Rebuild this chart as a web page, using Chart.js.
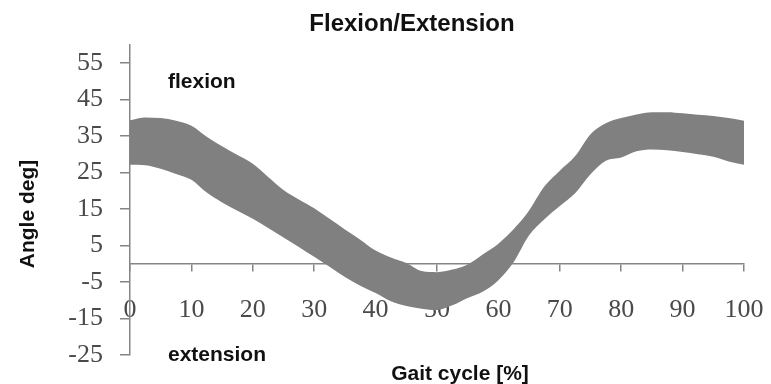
<!DOCTYPE html>
<html>
<head>
<meta charset="utf-8">
<script src="https://cdn.jsdelivr.net/npm/chart.js@4.4.0/dist/chart.umd.min.js"></script>
<style>
  html, body { margin: 0; padding: 0; background: #ffffff; }
  #wrap { width: 771px; height: 384px; }
</style>
</head>
<body>
<div id="wrap"><canvas id="chart" width="771" height="384"></canvas></div>
<script>
// Knee flexion/extension corridor over the gait cycle
const gaitPercent = [0, 2.5, 5, 7.5, 10, 12.5, 15, 17.5, 20, 22.5, 25, 27.5, 30, 32.5, 35, 37.5, 40, 42.5, 45, 47.5, 50,
                     52.5, 55, 57.5, 60, 62.5, 65, 67.5, 70, 72.5, 75, 77.5, 80, 82.5, 85, 87.5, 90, 92.5, 95, 97.5, 100];
const angleUpper  = [39.3, 40.1, 39.9, 39.2, 37.8, 34.8, 32.2, 29.8, 27.4, 23.8, 20.2, 17.6, 15.2, 12.3, 9.4, 6.6, 3.6, 1.7, 0.2, -2.0, -2.3,
                     -1.6, -0.2, 2.6, 5.5, 9.5, 14.6, 21.2, 25.5, 29.5, 35.5, 38.5, 39.9, 40.9, 41.5, 41.5, 41.2, 40.8, 40.5, 39.9, 39.2];
const angleLower  = [27.1, 27.0, 26.0, 24.6, 23.0, 19.5, 16.8, 14.5, 12.3, 9.8, 7.2, 4.6, 1.9, -0.8, -3.6, -6.0, -8.0, -10.3, -11.6, -12.3, -12.7,
                     -11.4, -9.4, -7.6, -4.5, 0.5, 7.8, 12.2, 15.8, 19.3, 24.5, 28.2, 29.1, 30.8, 31.3, 31.1, 30.6, 30.0, 29.3, 28.0, 27.1];
const angleTicks = [-25, -15, -5, 5, 15, 25, 35, 45, 55];
const gaitTicks  = [0, 10, 20, 30, 40, 50, 60, 70, 80, 90, 100];

const chartTitle = 'Flexion/Extension';
const xTitle = 'Gait cycle [%]';
const yTitle = 'Angle deg]';
const upLabel = 'flexion';
const downLabel = 'extension';

const bandColor = '#808080';
const axisColor = '#858585';
const tickFont = { family: '"Liberation Serif", "Times New Roman", serif', size: 26 };
const labelFont = 'bold 21px "Liberation Sans", Arial, sans-serif';

const toPoints = (ys) => gaitPercent.map((g, i) => ({ x: g, y: ys[i] }));

// Titles and the flexion / extension captions
const captions = {
  id: 'captions',
  afterDraw(chart) {
    const ctx = chart.ctx;
    ctx.save();
    ctx.fillStyle = '#111111';
    ctx.textBaseline = 'middle';

    ctx.font = 'bold 24px "Liberation Sans", Arial, sans-serif';
    ctx.textAlign = 'center';
    ctx.fillText(chartTitle, 412, 24);

    ctx.font = labelFont;
    ctx.fillText(xTitle, 460, 374);

    ctx.textAlign = 'left';
    ctx.fillText(upLabel, 168, 82);
    ctx.fillText(downLabel, 168, 355);

    ctx.translate(28, 214);
    ctx.rotate(-Math.PI / 2);
    ctx.textAlign = 'center';
    ctx.fillText(yTitle, 0, 0);
    ctx.restore();
  }
};

new Chart(document.getElementById('chart'), {
  type: 'line',
  data: {
    datasets: [
      {
        label: 'upper',
        data: toPoints(angleUpper),
        borderWidth: 0,
        borderColor: bandColor,
        backgroundColor: bandColor,
        pointRadius: 0,
        cubicInterpolationMode: 'monotone',
        fill: '+1'
      },
      {
        label: 'lower',
        data: toPoints(angleLower),
        borderWidth: 0,
        borderColor: bandColor,
        backgroundColor: bandColor,
        pointRadius: 0,
        cubicInterpolationMode: 'monotone',
        fill: false
      }
    ]
  },
  options: {
    responsive: false,
    animation: false,
    devicePixelRatio: 1,
    layout: { padding: { left: 0, right: 27, top: 44.75, bottom: 29 } },
    plugins: {
      legend: { display: false },
      tooltip: { enabled: false },
      title: { display: false }
    },
    scales: {
      x: {
        type: 'linear',
        position: { y: 0 },
        min: 0,
        max: 100,
        z: 1,
        afterBuildTicks(scale) { scale.ticks = gaitTicks.map(v => ({ value: v })); },
        // the end labels may overhang the plot; keep the plot width fixed
        afterFit(scale) { scale.paddingLeft = 0; scale.paddingRight = 0; },
        grid: { drawOnChartArea: false, tickLength: 7, color: axisColor, lineWidth: 1.5 },
        border: { display: true, color: axisColor, width: 1.5 },
        ticks: { font: tickFont, color: '#4a4a4a', padding: 24, maxRotation: 0, autoSkip: false }
      },
      y: {
        type: 'linear',
        position: 'left',
        min: -25,
        max: 60,
        afterBuildTicks(scale) { scale.ticks = angleTicks.map(v => ({ value: v })); },
        afterFit(scale) { scale.width = 130; scale.paddingTop = 0; scale.paddingBottom = 0; },
        grid: { drawOnChartArea: false, tickLength: 10, color: axisColor, lineWidth: 1.5 },
        border: { display: true, color: axisColor, width: 1.5 },
        ticks: { font: tickFont, color: '#4a4a4a', padding: 17, autoSkip: false }
      }
    }
  },
  plugins: [captions]
});
</script>
</body>
</html>
